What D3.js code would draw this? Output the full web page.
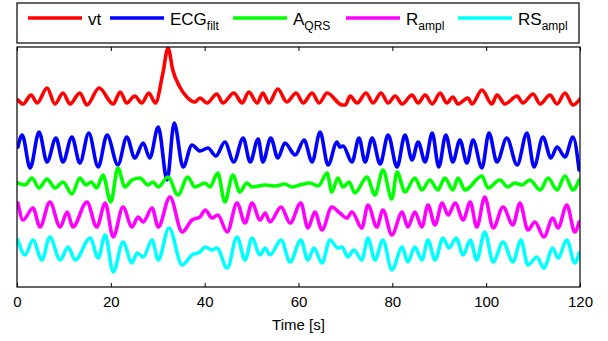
<!DOCTYPE html>
<html><head><meta charset="utf-8">
<script src="https://cdn.jsdelivr.net/npm/d3@7"></script>
<style>body{margin:0;background:#fff}svg{display:block}</style>
</head><body>
<script>
// ---- data (time [s], amplitude in arbitrary stacked units) ----
const xTicks = [0, 20, 40, 60, 80, 100, 120];
const seriesNames = ["vt", "ECG", "A", "R", "RS"];
const seriesSubs = ["", "filt", "QRS", "ampl", "ampl"];
const seriesColors = ["#ff0000", "#0000ff", "#00ff00", "#ff00ff", "#00ffff"];

const vt = [[0.2,187],[1.3,183],[3.0,192],[4.3,184],[6.4,199],[8.1,183],[9.8,194],[11.3,183],[13.4,194],[14.9,182],[17.5,199],[20.5,183],[22.0,195],[23.4,184],[25.1,191],[26.6,184],[28.1,194],[29.5,184],[31.1,214],[32.2,239],[33.2,217],[34.7,200],[36.2,190],[37.9,185],[39.0,189],[40.5,184],[42.6,193],[43.9,184],[46.2,194],[48.0,184],[49.4,195],[51.2,184],[52.4,194],[53.7,184],[55.6,198],[57.5,185],[59.5,194],[61.0,184],[62.9,194],[64.4,184],[66.1,194],[69.3,182],[70.0,182],[71.0,191],[72.5,184],[74.4,194],[75.9,184],[77.6,194],[79.1,184],[80.6,191],[82.1,183],[84.2,192],[85.5,184],[87.0,192],[88.5,183],[90.2,194],[91.6,184],[92.9,190],[94.0,183],[96.1,189],[97.0,183],[99.1,197],[101.2,183],[102.3,192],[104.0,183],[106.6,191],[107.8,184],[110.0,193],[111.5,183],[113.6,192],[115.1,183],[116.8,194],[118.5,182],[120.0,188]];

const ecg = [[0.2,140],[1.1,152],[2.8,119],[4.7,155],[6.4,125],[8.3,149],[9.8,125],[11.7,150],[13.4,124],[15.3,154],[17.3,120],[19.2,152],[21.5,122],[23.4,150],[25.1,129],[26.9,144],[28.3,129],[30.1,160],[32.0,107],[33.5,164],[35.4,120],[37.3,142],[39.0,136],[40.7,139],[42.4,131],[44.3,145],[46.2,125],[48.2,149],[49.7,125],[51.4,148],[52.4,125],[54.1,149],[55.6,129],[57.1,144],[59.3,132],[61.2,147],[62.9,125],[64.6,155],[66.3,122],[68.2,145],[68.8,140],[69.5,141],[71.4,125],[72.9,149],[74.2,125],[75.7,149],[77.4,123],[79.1,152],[81.0,120],[82.7,152],[84.2,127],[85.5,145],[87.0,125],[88.5,154],[89.9,120],[91.4,152],[92.9,125],[94.4,147],[95.9,124],[97.2,147],[99.1,119],[100.6,154],[102.3,125],[104.4,149],[106.6,122],[108.7,154],[110.2,120],[112.1,150],[113.8,129],[115.1,140],[116.8,130],[118.5,150],[119.8,117]];

const aqrs = [[0.2,104],[1.7,102],[3.2,109],[4.7,99],[6.4,108],[8.1,99],[9.8,105],[11.7,93],[13.4,109],[14.7,102],[15.8,105],[17.0,99],[18.3,112],[20.0,85],[21.5,119],[23.0,100],[24.5,107],[26.2,109],[27.9,102],[29.0,105],[30.1,100],[32.2,110],[34.3,92],[36.4,110],[37.9,100],[40.1,104],[41.1,100],[42.8,114],[44.3,85],[46.0,112],[47.5,95],[49.0,104],[50.1,100],[52.9,102],[55.0,101],[57.1,103],[58.6,100],[60.3,102],[62.4,104],[64.2,101],[66.1,114],[67.1,95],[68.4,109],[69.5,100],[70.8,105],[72.0,94],[74.6,110],[76.3,92],[78.0,117],[79.9,88],[81.0,115],[82.7,95],[84.8,109],[86.3,97],[88.0,107],[89.7,97],[91.2,109],[92.9,97],[94.0,109],[95.5,97],[99.1,111],[100.4,99],[102.9,107],[104.6,100],[106.1,104],[107.6,102],[109.3,107],[111.5,97],[113.2,109],[115.1,97],[116.8,111],[118.5,97],[119.8,107]];

const rampl = [[0.2,84],[1.3,67],[3.4,79],[4.9,60],[7.0,85],[9.2,60],[10.7,75],[11.9,60],[14.9,85],[17.0,60],[18.8,84],[20.5,50],[22.6,80],[24.5,60],[25.8,70],[26.9,65],[28.8,79],[30.1,60],[32.6,90],[35.2,55],[37.3,67],[39.0,70],[40.1,77],[41.6,69],[42.8,72],[44.8,55],[46.9,84],[48.6,64],[50.1,84],[51.8,67],[52.9,74],[53.9,65],[56.3,80],[58.2,64],[60.5,84],[62.0,59],[63.5,75],[65.0,57],[67.1,80],[68.8,74],[70.3,69],[71.4,75],[73.5,59],[74.8,82],[76.7,60],[78.0,77],[79.9,52],[82.1,75],[83.3,60],[84.8,75],[86.3,60],[87.6,82],[89.1,62],[90.6,84],[91.9,72],[93.4,84],[95.1,67],[96.6,85],[98.0,60],[99.7,90],[101.5,59],[103.6,80],[105.7,62],[107.2,84],[108.9,57],[110.4,65],[112.3,50],[114.2,69],[115.3,59],[117.2,82],[118.9,55],[119.8,65]];

const rsampl = [[0.2,47],[1.7,32],[3.4,47],[5.3,27],[7.0,50],[9.2,27],[10.9,40],[12.4,27],[15.6,49],[17.3,29],[18.8,52],[20.5,15],[22.6,45],[24.5,24],[25.6,34],[26.9,30],[28.8,47],[30.1,27],[32.4,59],[35.2,22],[37.3,32],[39.0,35],[40.1,40],[41.6,37],[42.6,39],[44.8,19],[46.9,50],[48.6,27],[50.1,49],[51.8,32],[52.9,39],[53.9,32],[56.3,47],[58.2,25],[60.5,47],[62.0,27],[63.3,39],[65.0,24],[66.7,47],[68.4,39],[69.3,40],[70.5,30],[71.8,37],[73.5,27],[74.8,49],[76.3,27],[78.0,47],[79.9,17],[82.1,40],[83.3,25],[84.8,40],[86.3,27],[87.6,47],[89.1,27],[90.8,49],[92.1,39],[93.6,49],[95.1,32],[96.6,47],[98.0,27],[99.7,55],[101.5,25],[103.6,45],[105.7,25],[107.4,47],[108.9,22],[110.8,30],[112.3,19],[114.2,39],[115.3,29],[117.2,47],[118.9,24],[119.8,34]];

const allSeries = [vt, ecg, aqrs, rampl, rsampl];

// ---- layout ----
const W = 608, H = 341;
const M = {left: 17, right: 580, top: 47, bottom: 287};
const svg = d3.select("body").append("svg").attr("width", W).attr("height", H)
  .style("font-family", "'Liberation Sans', Arial, Helvetica, sans-serif");

const x = d3.scaleLinear().domain([0, 120]).range([M.left, M.right]);
const y = d3.scaleLinear().domain([0, 240]).range([M.bottom, M.top]);

svg.append("clipPath").attr("id", "clip").append("rect")
  .attr("x", M.left).attr("y", M.top).attr("width", M.right - M.left).attr("height", M.bottom - M.top);

const line = d3.line().x(d => x(d[0])).y(d => y(d[1])).curve(d3.curveMonotoneX);

const g = svg.append("g").attr("clip-path", "url(#clip)");
allSeries.forEach((s, i) => {
  g.append("path").datum(s).attr("d", line)
    .attr("fill", "none").attr("stroke", seriesColors[i])
    .attr("stroke-width", 3.6).attr("stroke-linejoin", "round").attr("stroke-linecap", "round");
});

// frame
svg.append("rect").attr("x", M.left).attr("y", M.top)
  .attr("width", M.right - M.left).attr("height", M.bottom - M.top)
  .attr("fill", "none").attr("stroke", "#000").attr("stroke-width", 1.2);

// bottom axis
const xAxis = d3.axisBottom(x).tickValues(xTicks).tickSizeInner(-4).tickSizeOuter(0).tickPadding(9);
const ax = svg.append("g").attr("transform", `translate(0,${M.bottom})`).call(xAxis);
ax.select(".domain").remove();
ax.selectAll("line").attr("stroke", "#000");
ax.selectAll("text").attr("font-size", 15).attr("fill", "#000")
  .attr("font-family", "'Liberation Sans', Arial, sans-serif");
// top ticks
const xTop = d3.axisTop(x).tickValues(xTicks).tickSizeInner(-4).tickSizeOuter(0).tickFormat("");
const at = svg.append("g").attr("transform", `translate(0,${M.top})`).call(xTop);
at.select(".domain").remove();
at.selectAll("line").attr("stroke", "#000");

svg.append("text").attr("x", (M.left + M.right) / 2).attr("y", 330)
  .attr("text-anchor", "middle").attr("font-size", 15).text("Time [s]");

// legend
svg.append("rect").attr("x", 17).attr("y", 3).attr("width", 562).attr("height", 40)
  .attr("fill", "#fff").attr("stroke", "#000").attr("stroke-width", 1.2);
const legX = [28, 110, 233, 346, 458];
const leg = svg.append("g");
seriesNames.forEach((n, i) => {
  leg.append("line").attr("x1", legX[i]).attr("x2", legX[i] + 54).attr("y1", 18).attr("y2", 18)
    .attr("stroke", seriesColors[i]).attr("stroke-width", 3.6);
  const t = leg.append("text").attr("x", legX[i] + 60).attr("y", 25).attr("font-size", 17);
  t.append("tspan").text(n);
  if (seriesSubs[i]) t.append("tspan").attr("font-size", 12).attr("dy", 5).text(seriesSubs[i]);
});
</script>
</body></html>
